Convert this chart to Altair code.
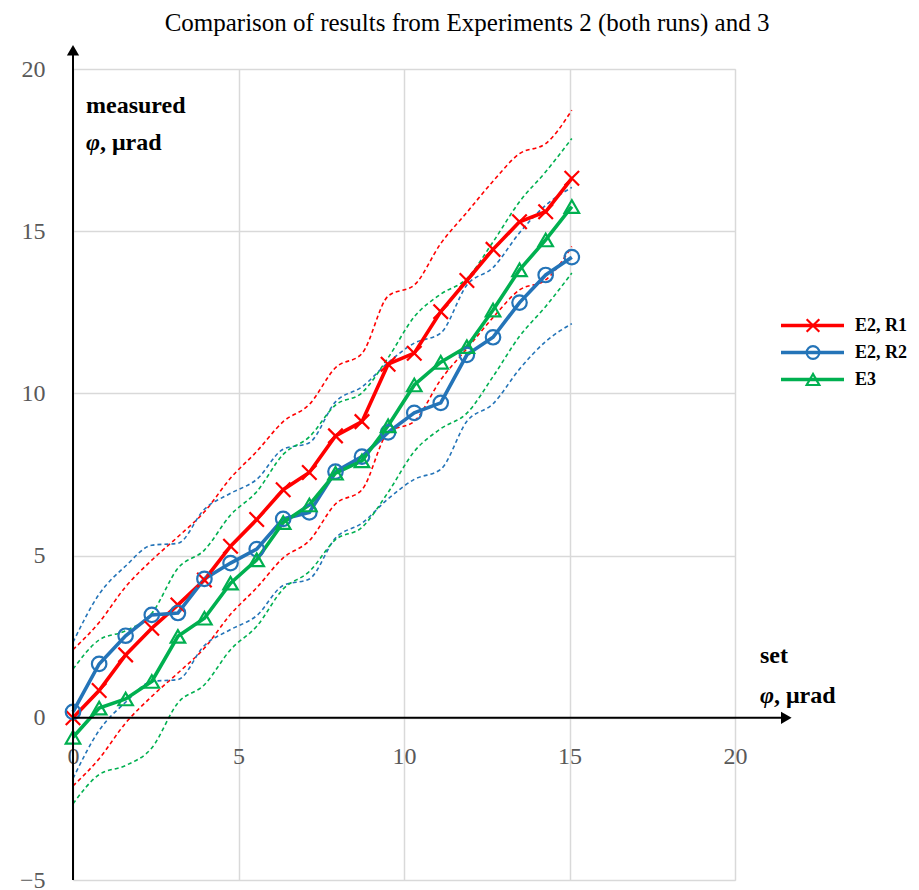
import altair as alt
import pandas as pd

# ---------------- data ----------------
set_phi = [0, 0.79, 1.59, 2.38, 3.17, 3.97, 4.76, 5.55, 6.35, 7.14,
           7.93, 8.73, 9.52, 10.31, 11.11, 11.9, 12.69, 13.49, 14.28, 15.07]

series_names = ["E2, R1", "E2, R2", "E3"]
series_colors = ["#FF0000", "#2474B8", "#00B050"]

e2r1 = [0.0, 0.84, 1.94, 2.76, 3.48, 4.25, 5.29, 6.11, 7.03, 7.56,
        8.69, 9.13, 10.9, 11.24, 12.52, 13.48, 14.44, 15.29, 15.6, 16.63]
e2r1_hi = [2.1, 2.94, 4.04, 4.86, 5.58, 6.35, 7.39, 8.21, 9.13, 9.66,
           10.79, 11.23, 13.0, 13.34, 14.62, 15.58, 16.54, 17.39, 17.7, 18.73]
e2r1_lo = [-2.1, -1.26, -0.16, 0.66, 1.38, 2.15, 3.19, 4.01, 4.93, 5.46,
           6.59, 7.03, 8.8, 9.14, 10.42, 11.38, 12.34, 13.19, 13.5, 14.53]

e2r2 = [0.18, 1.66, 2.53, 3.17, 3.23, 4.28, 4.77, 5.2, 6.13, 6.33,
        7.59, 8.05, 8.8, 9.4, 9.71, 11.19, 11.73, 12.8, 13.65, 14.2]
e2r2_hi = [2.33, 3.81, 4.68, 5.32, 5.38, 6.43, 6.92, 7.35, 8.28, 8.48,
           9.74, 10.2, 10.95, 11.55, 11.86, 13.34, 13.88, 14.95, 15.8, 16.35]
e2r2_lo = [-1.87, -0.39, 0.48, 1.12, 1.18, 2.23, 2.72, 3.15, 4.08, 4.28,
           5.54, 6.0, 6.75, 7.35, 7.66, 9.14, 9.68, 10.75, 11.6, 12.15]

e3 = [-0.6, 0.3, 0.58, 1.12, 2.51, 3.07, 4.15, 4.87, 6.02, 6.56,
      7.54, 7.92, 9.0, 10.26, 10.96, 11.44, 12.57, 13.81, 14.73, 15.76]
e3_hi = [1.5, 2.4, 2.68, 3.22, 4.61, 5.17, 6.25, 6.97, 8.12, 8.66,
         9.64, 10.02, 11.1, 12.36, 13.06, 13.54, 14.67, 15.91, 16.83, 17.86]
e3_lo = [-2.65, -1.75, -1.47, -0.93, 0.46, 1.02, 2.1, 2.82, 3.97, 4.51,
         5.49, 5.87, 6.95, 8.21, 8.91, 9.39, 10.52, 11.76, 12.68, 13.71]

x_ticks = [0, 5, 10, 15, 20]
y_ticks = [-5, 0, 5, 10, 15, 20]

title_text = ["Comparison of results from Experiments 2 (both runs) and 3"]
y_title_word = ["measured"]
x_title_word = ["set"]
phi_sym = ["φ"]
unit_text = [", μrad"]

# ---------------- tables ----------------
mains = [e2r1, e2r2, e3]
his = [e2r1_hi, e2r2_hi, e3_hi]
los = [e2r1_lo, e2r2_lo, e3_lo]

rows, band_rows = [], []
for k, name in enumerate(series_names):
    for i, xv in enumerate(set_phi):
        rows.append({"series": name, "order": k, "x": xv, "y": mains[k][i]})
        band_rows.append({"series": name, "band": name + " hi", "x": xv, "y": his[k][i]})
        band_rows.append({"series": name, "band": name + " lo", "x": xv, "y": los[k][i]})
df = pd.DataFrame(rows)
band_df = pd.DataFrame(band_rows)
legend_df = pd.DataFrame({"series": series_names})

FONT = "Liberation Serif"
W, H = 662, 811
X0_OFFSET = -162  # move x axis up to y = 0

x_scale = alt.Scale(domain=[0, 20], nice=False, zero=False)
y_scale = alt.Scale(domain=[-5, 20], nice=False, zero=False)
axis_style = dict(grid=True, domain=False, ticks=False, labelFlush=False, labelOverlap=False,
                  title=None, gridColor="#d9d9d9", gridWidth=1.5, labelFont=FONT,
                  labelFontSize=24, labelColor="#595959")
x_axis = alt.Axis(values=x_ticks, offset=X0_OFFSET, labelPadding=26, **axis_style)
y_axis = alt.Axis(values=y_ticks, labelPadding=28, **axis_style)


def X(field=None, datum=None):
    if datum is not None:
        return alt.X(datum=datum, type="quantitative", scale=x_scale, axis=x_axis, title=None)
    return alt.X(field, type="quantitative", scale=x_scale, axis=x_axis, title=None)


def Y(field=None, datum=None):
    if datum is not None:
        return alt.Y(datum=datum, type="quantitative", scale=y_scale, axis=y_axis, title=None)
    return alt.Y(field, type="quantitative", scale=y_scale, axis=y_axis, title=None)


color = alt.Color("series:N", scale=alt.Scale(domain=series_names, range=series_colors), legend=None)
shape_scale = alt.Scale(domain=series_names,
                        range=["M-1,-1L1,1M-1,1L1,-1", "circle", "triangle-up"])

bands = alt.Chart(band_df).mark_line(strokeWidth=1.6, strokeDash=[4, 3], interpolate="monotone").encode(
    x=X("x"), y=Y("y"), color=color, detail="band:N")

lines = alt.Chart(df).mark_line(strokeWidth=3.6).encode(
    x=X("x"), y=Y("y"), color=color, order="order:Q")

points = alt.Chart(df).mark_point(filled=False, strokeWidth=2.2, size=210, opacity=1).encode(
    x=X("x"), y=Y("y"), color=color, shape=alt.Shape("series:N", scale=shape_scale, legend=None))

# axis lines with arrows
v_axis = alt.Chart(legend_df.head(1)).mark_rule(color="black", strokeWidth=2).encode(
    x=X(datum=0), y=Y(datum=-5), y2=alt.Y2(datum=20.45))
h_axis = alt.Chart(legend_df.head(1)).mark_rule(color="black", strokeWidth=2).encode(
    x=X(datum=0), x2=alt.X2(datum=21.45), y=Y(datum=0))
v_arrow = alt.Chart(legend_df.head(1)).mark_point(shape="triangle-up", filled=True, color="black",
                                                  size=150, opacity=1).encode(
    x=X(datum=0), y=Y(datum=20.58))
h_arrow = alt.Chart(legend_df.head(1)).mark_point(shape="triangle-right", filled=True, color="black",
                                                  size=150, opacity=1).encode(
    x=X(datum=21.55), y=Y(datum=0))

# axis name annotations
lab_style = dict(font=FONT, fontSize=24, fontWeight="bold", color="black", align="left",
                 baseline="alphabetic")
y_word = alt.Chart(pd.DataFrame({"t": y_title_word})).mark_text(**lab_style).encode(
    text="t:N", x=alt.value(13), y=alt.value(44))
y_phi = alt.Chart(pd.DataFrame({"t": phi_sym})).mark_text(**{**lab_style, "fontStyle": "italic"}).encode(
    text="t:N", x=alt.value(13), y=alt.value(81))
y_unit = alt.Chart(pd.DataFrame({"t": unit_text})).mark_text(**lab_style).encode(
    text="t:N", x=alt.value(27), y=alt.value(81))
x_word = alt.Chart(pd.DataFrame({"t": x_title_word})).mark_text(**lab_style).encode(
    text="t:N", x=alt.value(687), y=alt.value(594))
x_phi = alt.Chart(pd.DataFrame({"t": phi_sym})).mark_text(**{**lab_style, "fontStyle": "italic"}).encode(
    text="t:N", x=alt.value(687), y=alt.value(634))
x_unit = alt.Chart(pd.DataFrame({"t": unit_text})).mark_text(**lab_style).encode(
    text="t:N", x=alt.value(701), y=alt.value(634))

# chart title, drawn as text above the plot
title = alt.Chart(pd.DataFrame({"t": title_text})).mark_text(
    font=FONT, fontSize=25, fontWeight="normal", fontStyle="normal", color="black",
    align="center", baseline="alphabetic").encode(
    text="t:N", x=alt.value(394), y=alt.value(-38))

main = alt.layer(bands, lines, points, v_axis, h_axis, v_arrow, h_arrow,
                 y_word, y_phi, y_unit, x_word, x_phi, x_unit, title)

# legend (own vertical scale over the series names)
leg_y = alt.Y("series:N", scale=alt.Scale(domain=series_names, range=[243, 324], padding=0), axis=None)
leg_line = alt.Chart(legend_df).mark_rule(strokeWidth=3.6).encode(
    x=alt.value(708), x2=alt.value(771), y=leg_y, color=color)
leg_pt = alt.Chart(legend_df).mark_point(filled=False, strokeWidth=2.2, size=160, opacity=1).encode(
    x=alt.value(740), y=leg_y, color=color, shape=alt.Shape("series:N", scale=shape_scale, legend=None))
leg_txt = alt.Chart(legend_df).mark_text(font=FONT, fontSize=18, fontWeight="bold", color="black",
                                         align="left", baseline="middle").encode(
    x=alt.value(782), y=leg_y, text="series:N")
legend = alt.layer(leg_line, leg_pt, leg_txt)

chart = alt.layer(main, legend).resolve_scale(y="independent").properties(
    width=W, height=H,
    autosize=alt.AutoSizeParams(type="none"),
    padding={"left": 65, "top": 61, "right": 176, "bottom": 10},
).configure_view(stroke=None).configure(font=FONT)

chart.save("out.html", embed_options={"renderer": "svg", "actions": False})
